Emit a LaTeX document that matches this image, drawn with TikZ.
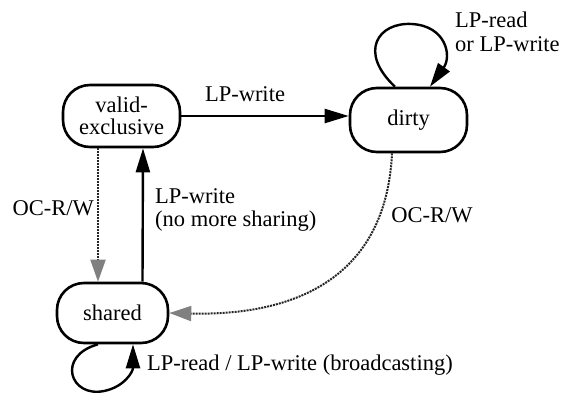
\documentclass[tikz,border=0pt]{standalone}
\usepackage{fontspec}
\setmainfont{Liberation Serif}
\usetikzlibrary{arrows.meta}
\begin{document}
\begin{tikzpicture}[x=1pt,y=-1pt,
  every node/.style={font=\fontsize{22.5}{23.5}\selectfont},
  statebox/.style={draw, line width=2.6pt, rounded corners=27pt, align=center, inner sep=0pt},
  solidarrow/.style={line width=2.4pt, -{Triangle[length=24pt,width=14pt]}},
  ocarrow/.style={draw=black!85, line width=2pt, densely dotted, -{Triangle[length=22pt,width=15pt,fill=black!50,color=black!50]}},
  lbl/.style={inner sep=0pt}]
\useasboundingbox (0,0) rectangle (571,392);
% states
\node[statebox, minimum width=117pt, minimum height=62pt] (ve) at (121.5,116) {valid-\\[-1pt]exclusive};
\node[statebox, minimum width=117pt, minimum height=64pt] (dirty) at (408.5,120) {dirty};
\node[statebox, minimum width=111pt, minimum height=60pt] (shared) at (112.5,313) {shared};
% helper coordinates
\coordinate (vedot) at ([xshift=-23.5pt]ve.south);
\coordinate (shdot) at ([xshift=-14.5pt]shared.north);
\coordinate (vesol) at ([xshift=21.5pt]ve.south);
\coordinate (shsol) at ([xshift=30pt]shared.north);
\coordinate (dsouth) at ([xshift=-16.5pt]dirty.south);
\coordinate (dtopa) at ([xshift=-13.5pt]dirty.north);
\coordinate (dtopb) at ([xshift=21.5pt]dirty.north);
\coordinate (sbota) at ([xshift=-14.5pt]shared.south);
\coordinate (sbotb) at ([xshift=20.5pt]shared.south);
% transitions
\draw[solidarrow] (ve.east) -- (ve.east -| dirty.west);
\draw[ocarrow] (vedot) -- (shdot);
\draw[solidarrow] (shsol) -- (vesol);
\draw[ocarrow] (dsouth) .. controls (386,280) and (292,316) .. (shared.east);
\draw[solidarrow] (dtopa) .. controls (358,52) and (378,22) .. (412,24) .. controls (446,26) and (452,56) .. (dtopb);
\draw[solidarrow] (sbota) .. controls (56,356) and (70,398) .. (104,391) .. controls (124,387) and (133,372) .. (sbotb);
% labels
\node[lbl] (l1) at (245,94) {LP-write};
\node[lbl, anchor=east] (l2) at (94,208) {OC-R/W};
\node[lbl, anchor=west, align=left] (l3) at (155,210) {LP-write\\(no more sharing)};
\node[lbl] (l4) at (432,215) {OC-R/W};
\node[lbl, anchor=west, align=left] (l5) at (455,32) {LP-read\\or LP-write};
\node[lbl, anchor=west] (l6) at (147,365) {LP-read / LP-write (broadcasting)};
\end{tikzpicture}
\end{document}
